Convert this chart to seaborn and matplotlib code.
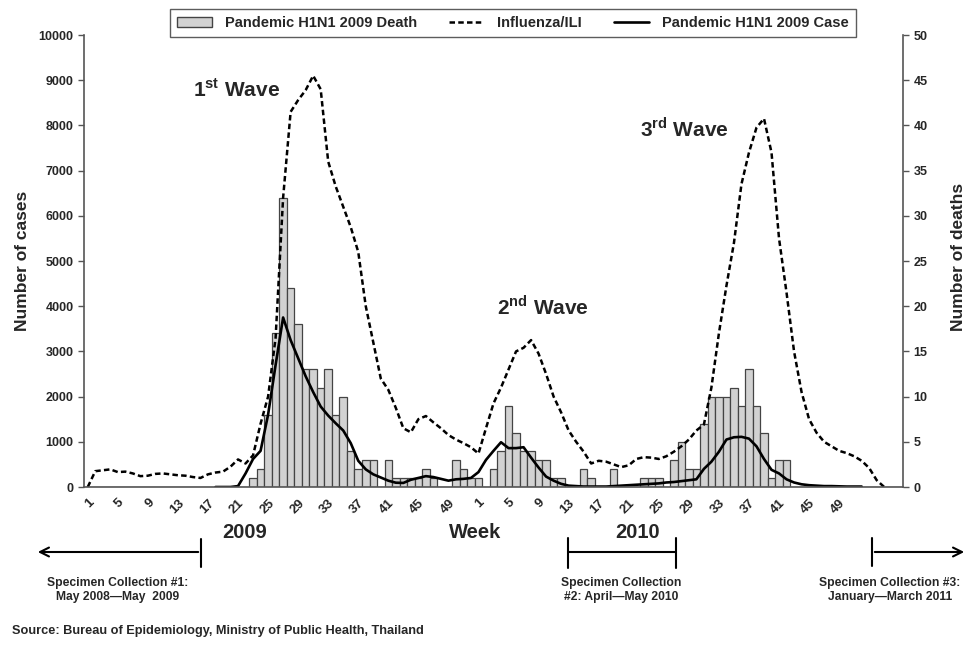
import numpy as np
import pandas as pd
import matplotlib
matplotlib.use('Agg')
import matplotlib.pyplot as plt
import seaborn as sns
from matplotlib import font_manager
from matplotlib.patches import Patch, FancyArrowPatch
from matplotlib.lines import Line2D

# ---- data (one value per week; 2009 wk1..52, 2010 wk1..52, 2011 wk1..5) ----
n_weeks = 109
week_numbers = list(range(1, 53)) + list(range(1, 53)) + [1, 2, 3, 4, 5]

# Pandemic H1N1 2009 deaths (right axis)
deaths = ([0] * 22 +
          [1, 2, 8, 17, 32, 22, 18, 13, 13, 11, 13, 8, 10, 4, 2, 3, 3, 0, 3, 1,
           1, 1, 1, 2, 1, 0, 0, 3, 2, 1, 1, 0, 2, 4, 9, 6, 4, 4, 3, 3,
           1, 1, 0, 0, 2, 1, 0, 0, 2, 0, 0, 0, 1, 1, 1, 0, 3, 5, 2, 2,
           7, 10, 10, 10, 11, 9, 13, 9, 6, 1, 3, 3] +
          [0] * 15)

# Pandemic H1N1 2009 cases (left axis), starts at week index 17
case_start = 17
cases = [0, 0, 0, 20, 300, 620, 800, 1600, 2700, 3750,
         3250, 2850, 2450, 2100, 1780, 1580, 1410, 1250, 970, 580,
         390, 280, 210, 140, 95, 90, 160, 200, 240, 220,
         180, 140, 170, 180, 200, 330, 600, 800, 990, 860,
         860, 880, 650, 430, 230, 140, 70, 30, 20, 10,
         10, 10, 10, 20, 30, 40, 50, 60, 70, 80,
         100, 110, 130, 150, 170, 400, 560, 780, 1050, 1100,
         1110, 1070, 900, 620, 380, 300, 170, 100, 60, 40,
         30, 20, 20, 15, 10, 10, 10]

# Influenza/ILI (left axis), starts at week index 0
ili = [0, 350, 370, 390, 330, 340, 300, 240, 250, 290,
       300, 280, 260, 250, 220, 200, 280, 320, 340, 450,
       610, 520, 700, 1400, 2000, 3300, 6400, 8300, 8560, 8780,
       9100, 8800, 7200, 6650, 6200, 5750, 5200, 4000, 3200, 2400,
       2150, 1750, 1300, 1210, 1500, 1570, 1430, 1300, 1150, 1050,
       970, 880, 740, 1300, 1850, 2200, 2600, 3000, 3080, 3250,
       2950, 2500, 2000, 1650, 1250, 1000, 780, 520, 580, 560,
       500, 440, 480, 620, 660, 650, 620, 680, 780, 900,
       1050, 1250, 1380, 2200, 3400, 4450, 5400, 6700, 7400, 7950,
       8150, 7400, 5500, 4300, 3000, 2100, 1500, 1200, 1000, 900,
       800, 750, 680, 580, 420, 150, 0]

label_every = 4
label_last = 100

df_deaths = pd.DataFrame({'week': range(n_weeks), 'deaths': deaths})
df_cases = pd.DataFrame({'week': range(case_start, case_start + len(cases)), 'cases': cases})
df_ili = pd.DataFrame({'week': range(len(ili)), 'ili': ili})

# ---- style ----
sns.set_style('white')
names = {f.name for f in font_manager.fontManager.ttflist}
narrow = 'Liberation Sans Narrow' if 'Liberation Sans Narrow' in names else 'Liberation Sans'
plt.rcParams['font.family'] = ['Liberation Sans', 'DejaVu Sans']
plt.rcParams['mathtext.fontset'] = 'custom'
plt.rcParams['mathtext.bf'] = 'Liberation Sans:bold'
plt.rcParams['mathtext.rm'] = 'Liberation Sans:bold'

W, H = 973, 650
fig = plt.figure(figsize=(W / 100, H / 100), dpi=100)
ax = fig.add_axes([84 / W, 1 - 487 / H, 819 / W, 452 / H])
ax2 = ax.twinx()

axis_col = '#555555'

# bars (deaths) on right axis
sns.barplot(data=df_deaths, x='week', y='deaths', ax=ax2, color='#d2d2d2',
            saturation=1, edgecolor='#444444', linewidth=0.9, width=1.0)

# lines on left axis
sns.lineplot(data=df_ili, x='week', y='ili', ax=ax, color='black',
             linestyle=(0, (2.2, 1.3)), linewidth=1.8)
sns.lineplot(data=df_cases, x='week', y='cases', ax=ax, color='black', linewidth=1.9)

ax.set_zorder(ax2.get_zorder() + 1)
ax.patch.set_visible(False)

ax.set_xlim(-0.5, n_weeks - 0.5)
ax.set_ylim(0, 10000)
ax2.set_ylim(0, 50)
ax.set_yticks(range(0, 10001, 1000))
ax2.set_yticks(range(0, 51, 5))

pos = list(range(0, label_last + 1, label_every))
pos = [p for p in pos if p % 52 <= 48]
ax.set_xticks(pos)
ax.set_xticklabels([str(week_numbers[p]) for p in pos], rotation=45, ha='right',
                   rotation_mode='anchor', fontweight='bold', fontsize=9.5)
ax.set_xticks([p - 0.5 for p in range(0, n_weeks, label_every)], minor=True)
ax.tick_params(axis='x', which='major', length=0, pad=7)
ax.tick_params(axis='x', which='minor', length=4, width=1, color=axis_col, direction='out')
ax.tick_params(axis='y', length=4, width=1, color=axis_col, direction='out', labelsize=9)
ax2.tick_params(axis='y', length=4, width=1, color=axis_col, direction='out', labelsize=9)
for lab in ax.get_yticklabels() + ax2.get_yticklabels():
    lab.set_fontweight('bold')

for s in ['top', 'right']:
    ax.spines[s].set_visible(False)
for s in ['top', 'left', 'bottom']:
    ax2.spines[s].set_visible(False)
for sp in [ax.spines['left'], ax.spines['bottom'], ax2.spines['right']]:
    sp.set_color(axis_col)
    sp.set_linewidth(1.2)

ax.set_xlabel('')
ax.set_ylabel('Number of cases', fontsize=12.5, fontweight='bold')
ax.yaxis.set_label_coords(-0.066, 0.5)
ax2.set_ylabel('Number of deaths', fontsize=12.5, fontweight='bold')
ax2.yaxis.set_label_coords(1.058, 0.51)

# legend
handles = [Patch(facecolor='#d2d2d2', edgecolor='#444444'),
           Line2D([0], [0], color='black', linestyle=(0, (2.2, 1.3)), linewidth=1.8),
           Line2D([0], [0], color='black', linewidth=1.9)]
leg = fig.legend(handles, ['Pandemic H1N1 2009 Death', 'Influenza/ILI', 'Pandemic H1N1 2009 Case'],
                 loc='center', bbox_to_anchor=(513 / W, 1 - 23 / H), ncol=3, frameon=True,
                 fancybox=False, edgecolor='#333333', prop={'weight': 'bold', 'size': 10.5},
                 handlelength=2.4, columnspacing=2.2, borderpad=0.45, handletextpad=0.9)
leg.get_frame().set_linewidth(1.0)


def fx(x):
    return x / W


def fy(y):
    return 1 - y / H


# wave labels
fig.text(fx(193), fy(90), r'1$^{\mathbf{st}}$ Wave', fontsize=15, fontweight='bold', va='center')
fig.text(fx(497), fy(307), r'2$^{\mathbf{nd}}$ Wave', fontsize=15, fontweight='bold', va='center')
fig.text(fx(640), fy(129), r'3$^{\mathbf{rd}}$ Wave', fontsize=15, fontweight='bold', va='center')

# year / week labels
big = 17 if narrow != 'Liberation Sans' else 14.5
for x, t in [(245, '2009'), (475, 'Week'), (638, '2010')]:
    fig.text(fx(x), fy(532), t, family=[narrow, 'Liberation Sans'], fontsize=big,
             fontweight='bold', ha='center', va='center')

# specimen collection brackets
lw = 1.5


def seg(x0, y0, x1, y1):
    fig.add_artist(Line2D([fx(x0), fx(x1)], [fy(y0), fy(y1)], transform=fig.transFigure,
                          color='black', linewidth=lw))


def arrow(x0, x1, y):
    fig.add_artist(FancyArrowPatch((fx(x0), fy(y)), (fx(x1), fy(y)), transform=fig.transFigure,
                                   arrowstyle='->', mutation_scale=16, color='black', linewidth=lw))


seg(201, 539, 201, 567)
arrow(201, 35, 552)
seg(568, 538, 568, 568)
seg(676, 538, 676, 568)
seg(568, 552, 676, 552)
seg(872, 538, 872, 566)
arrow(872, 967, 552)

small = 10.5 if narrow != 'Liberation Sans' else 8.7
for x, t in [(118, 'Specimen Collection #1:\nMay 2008\u2014May  2009'),
             (621, 'Specimen Collection\n#2: April\u2014May 2010'),
             (890, 'Specimen Collection #3:\nJanuary\u2014March 2011')]:
    fig.text(fx(x), fy(590), t, family=[narrow, 'Liberation Sans'], fontsize=small,
             fontweight='bold', ha='center', va='center', linespacing=1.25)

fig.text(fx(12), fy(631), 'Source: Bureau of Epidemiology, Ministry of Public Health, Thailand',
         family=[narrow, 'Liberation Sans'], fontsize=small + 1 if narrow != 'Liberation Sans' else 9.2,
         fontweight='bold', ha='left', va='center')

fig.savefig('out.png', dpi=100, facecolor='white')
